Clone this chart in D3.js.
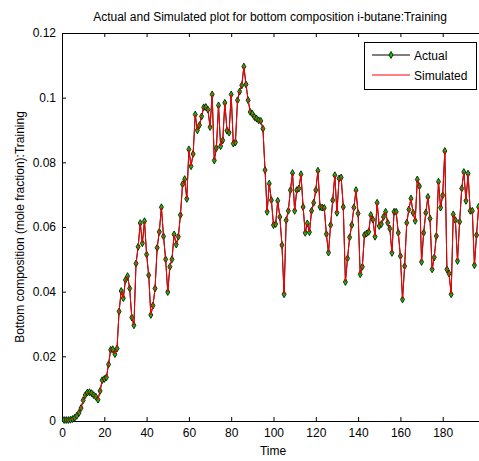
<!DOCTYPE html>
<html>
<head>
<meta charset="utf-8">
<script src="https://cdn.jsdelivr.net/npm/d3@7"></script>
<style>
  html, body { margin: 0; padding: 0; background: #fff; }
  svg { display: block; }
  text { font-family: "Liberation Sans", Arial, sans-serif; }
</style>
</head>
<body>
<svg id="chart" width="479" height="461"></svg>
<script>
const title = "Actual and Simulated plot for bottom composition i-butane:Training";
const xLabel = "Time";
const yLabel = "Bottom composition (mole fraction):Training";
const seriesNames = ["Actual", "Simulated"];
const xTicks = [0, 20, 40, 60, 80, 100, 120, 140, 160, 180];
const yTicks = [0, 0.02, 0.04, 0.06, 0.08, 0.1, 0.12];

const actual = [
0.0003,0.0003,0.0003,0.0004,0.0006,0.0010,0.0016,0.0025,0.0040,0.0064,
0.0080,0.0088,0.0089,0.0086,0.0080,0.0075,0.0066,0.0093,0.0126,0.0130,
0.0135,0.0175,0.0220,0.0222,0.0207,0.0224,0.0339,0.0402,0.0380,0.0436,
0.0448,0.0410,0.0320,0.0296,0.0487,0.0539,0.0612,0.0550,0.0618,0.0515,
0.0451,0.0328,0.0357,0.0410,0.0536,0.0585,0.0661,0.0571,0.0500,0.0399,
0.0477,0.0500,0.0577,0.0546,0.0570,0.0637,0.0732,0.0748,0.0687,0.0840,
0.0788,0.0826,0.0948,0.0899,0.0915,0.0942,0.0970,0.0971,0.0963,0.0909,
0.1010,0.0806,0.0844,0.0976,0.0850,0.0868,0.0984,0.0898,0.0892,0.1010,
0.0858,0.0862,0.0992,0.1019,0.1038,0.1096,0.1041,0.0992,0.0956,0.0950,
0.0940,0.0935,0.0930,0.0928,0.0904,0.0776,0.0647,0.0734,0.0683,0.0606,
0.0609,0.0681,0.0631,0.0544,0.0392,0.0621,0.0650,0.0714,0.0767,0.0650,
0.0714,0.0719,0.0763,0.0662,0.0582,0.0611,0.0584,0.0650,0.0675,0.0714,
0.0774,0.0662,0.0660,0.0659,0.0578,0.0521,0.0606,0.0683,0.0760,0.0644,
0.0750,0.0753,0.0662,0.0430,0.0503,0.0568,0.0606,0.0660,0.0714,0.0642,
0.0454,0.0477,0.0575,0.0580,0.0585,0.0637,0.0623,0.0570,0.0675,0.0603,
0.0609,0.0631,0.0647,0.0613,0.0595,0.0520,0.0647,0.0647,0.0582,0.0510,
0.0376,0.0479,0.0613,0.0654,0.0688,0.0644,0.0619,0.0747,0.0726,0.0492,
0.0582,0.0644,0.0693,0.0626,0.0469,0.0506,0.0572,0.0740,0.0660,0.0698,
0.0835,0.0469,0.0456,0.0392,0.0639,0.0621,0.0495,0.0616,0.0719,0.0770,
0.0681,0.0765,0.0650,0.0650,0.0482,0.0575,0.0662
];

const simulated = [
0.0003,0.0003,0.0003,0.0004,0.0006,0.0010,0.0016,0.0025,0.0040,0.0064,
0.0080,0.0088,0.0089,0.0086,0.0080,0.0075,0.0066,0.0093,0.0126,0.0130,
0.0135,0.0175,0.0220,0.0222,0.0207,0.0224,0.0339,0.0402,0.0380,0.0436,
0.0448,0.0410,0.0320,0.0296,0.0487,0.0539,0.0612,0.0550,0.0618,0.0515,
0.0451,0.0328,0.0357,0.0410,0.0536,0.0585,0.0661,0.0571,0.0500,0.0399,
0.0477,0.0500,0.0577,0.0546,0.0570,0.0637,0.0732,0.0748,0.0687,0.0840,
0.0788,0.0826,0.0948,0.0899,0.0915,0.0942,0.0970,0.0971,0.0963,0.0909,
0.1010,0.0806,0.0844,0.0976,0.0850,0.0868,0.0984,0.0898,0.0892,0.1010,
0.0858,0.0862,0.0992,0.1019,0.1038,0.1096,0.1041,0.0992,0.0956,0.0950,
0.0940,0.0935,0.0930,0.0928,0.0904,0.0776,0.0647,0.0734,0.0683,0.0606,
0.0609,0.0681,0.0631,0.0544,0.0392,0.0621,0.0650,0.0714,0.0767,0.0650,
0.0714,0.0719,0.0763,0.0662,0.0582,0.0611,0.0584,0.0650,0.0675,0.0714,
0.0774,0.0662,0.0660,0.0659,0.0578,0.0521,0.0606,0.0683,0.0760,0.0644,
0.0750,0.0753,0.0662,0.0430,0.0503,0.0568,0.0606,0.0660,0.0714,0.0642,
0.0454,0.0477,0.0575,0.0580,0.0585,0.0637,0.0623,0.0570,0.0675,0.0603,
0.0609,0.0631,0.0647,0.0613,0.0595,0.0520,0.0647,0.0647,0.0582,0.0510,
0.0376,0.0479,0.0613,0.0654,0.0688,0.0644,0.0619,0.0747,0.0726,0.0492,
0.0582,0.0644,0.0693,0.0626,0.0469,0.0506,0.0572,0.0740,0.0660,0.0698,
0.0835,0.0469,0.0456,0.0392,0.0639,0.0621,0.0495,0.0616,0.0719,0.0770,
0.0681,0.0765,0.0650,0.0650,0.0482,0.0575,0.0662
];

const svg = d3.select("#chart");
const padL = 62, padR = 485, padT = 33, padB = 421;

const x = d3.scaleLinear().domain([0, 200]).range([padL, padR]);
const y = d3.scaleLinear().domain([0, 0.12]).range([padB, padT]);

const fmtY = d => String(+d.toFixed(2));

// axes
const tickLen = 4;
const gx = svg.append("g").attr("transform", `translate(0,${padB})`)
  .call(d3.axisBottom(x).tickValues(xTicks).tickSizeInner(-tickLen).tickSizeOuter(0).tickPadding(7).tickFormat(d3.format("d")));
const gxt = svg.append("g").attr("transform", `translate(0,${padT})`)
  .call(d3.axisTop(x).tickValues(xTicks).tickSizeInner(-tickLen).tickSizeOuter(0).tickFormat(""));
const gy = svg.append("g").attr("transform", `translate(${padL},0)`)
  .call(d3.axisLeft(y).tickValues(yTicks).tickSizeInner(-tickLen).tickSizeOuter(0).tickPadding(6).tickFormat(fmtY));
const gyr = svg.append("g").attr("transform", `translate(${padR},0)`)
  .call(d3.axisRight(y).tickValues(yTicks).tickSizeInner(-tickLen).tickSizeOuter(0).tickFormat(""));

[gx, gxt, gy, gyr].forEach(g => {
  g.selectAll("path.domain").attr("stroke", "#000").attr("stroke-width", 1);
  g.selectAll(".tick line").attr("stroke", "#000");
  g.selectAll("text").attr("fill", "#000").style("font-size", "12px")
    .style("font-family", "'Liberation Sans', Arial, sans-serif");
});

// data lines
const pts = actual.map((v, i) => [i + 1, v]);
const simPts = simulated.map((v, i) => [i + 1, v]);
const line = d3.line().x(d => x(d[0])).y(d => y(d[1]));

const plot = svg.append("g");
plot.append("path").datum(pts).attr("d", line)
  .attr("fill", "none").attr("stroke", "#000").attr("stroke-width", 1);

const marker = d3.symbol().type(d3.symbolDiamond).size(14);
plot.selectAll("path.mk").data(pts).join("path").attr("class", "mk")
  .attr("d", marker)
  .attr("transform", d => `translate(${x(d[0])},${y(d[1])})`)
  .attr("fill", "#00d000").attr("stroke", "#000").attr("stroke-width", 0.8);

plot.append("path").datum(simPts).attr("d", line)
  .attr("fill", "none").attr("stroke", "#ff0000").attr("stroke-width", 1);

// title and labels
svg.append("text").attr("x", 270).attr("y", 21).attr("text-anchor", "middle")
  .style("font-size", "12px").text(title);
svg.append("text").attr("x", 273).attr("y", 455).attr("text-anchor", "middle")
  .style("font-size", "12px").text(xLabel);
svg.append("text").attr("transform", `translate(24,${(padT + padB) / 2}) rotate(-90)`)
  .attr("text-anchor", "middle").style("font-size", "12px").text(yLabel);

// legend
const lg = svg.append("g");
lg.append("rect").attr("x", 364.5).attr("y", 42.5).attr("width", 112).attr("height", 47)
  .attr("fill", "#fff").attr("stroke", "#000").attr("stroke-width", 1);
const legendRows = [
  { name: seriesNames[0], color: "#000", marker: true, yy: 55 },
  { name: seriesNames[1], color: "#ff0000", marker: false, yy: 75 }
];
legendRows.forEach(r => {
  lg.append("line").attr("x1", 372).attr("x2", 410).attr("y1", r.yy).attr("y2", r.yy)
    .attr("stroke", r.color).attr("stroke-width", 1);
  if (r.marker) {
    lg.append("path").attr("d", marker).attr("transform", `translate(391,${r.yy})`)
      .attr("fill", "#00d000").attr("stroke", "#000").attr("stroke-width", 0.8);
  }
  lg.append("text").attr("x", 414).attr("y", r.yy + 4.5)
    .style("font-size", "12px").text(r.name);
});
</script>
</body>
</html>
